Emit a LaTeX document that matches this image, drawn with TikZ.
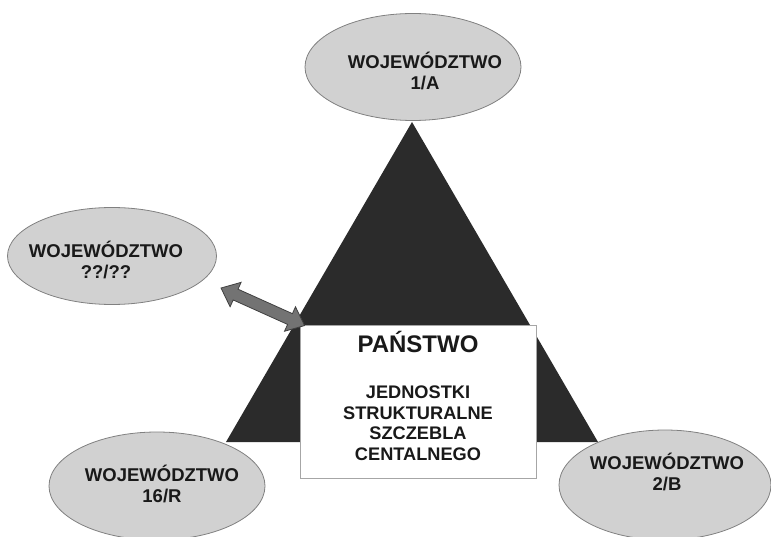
\documentclass[tikz,border=0pt]{standalone}
\usepackage{fontspec}
\setmainfont{Liberation Sans}
\usetikzlibrary{shapes.geometric,shapes.arrows,calc}

\begin{document}
\begin{tikzpicture}[
  x=1pt, y=-1pt,
  woj/.style={ellipse, draw=black!50, fill=black!18, line width=0.8pt, inner sep=0pt},
  wojtext/.style={font=\fontsize{18.5}{21.5}\selectfont\bfseries, align=center,
                  text=black!90, inner sep=0pt},
  panbox/.style={draw=black!35, fill=white, line width=0.8pt, inner sep=0pt,
                 minimum width=236pt, minimum height=153pt},
  pantext/.style={font=\fontsize{18.2}{20.7}\selectfont\bfseries, align=center,
                  text=black!90, inner sep=0pt},
  link/.style={double arrow, draw=black!75, fill=black!55, line width=0.8pt,
               inner xsep=0pt, inner ysep=5.5pt, double arrow head extend=7.5pt,
               double arrow tip angle=80}
]
\useasboundingbox (0,0) rectangle (771,537);

% Pyramid
\fill[black!83] (412,122) -- (226,442) -- (598,442) -- cycle;

% Voivodeships
\node[woj, minimum width=216pt, minimum height=107pt,
      label={[wojtext, xshift=12pt, yshift=-4pt]center:WOJEWÓDZTWO\\1/A}] (w1) at (413,67) {};
\node[woj, minimum width=209pt, minimum height=97pt,
      label={[wojtext, xshift=-6pt, yshift=-4pt]center:WOJEWÓDZTWO\\??/??}] (wx) at (112,256) {};
\node[woj, minimum width=216pt, minimum height=108pt,
      label={[wojtext, xshift=5pt, yshift=2pt]center:WOJEWÓDZTWO\\16/R}] (w16) at (157,486) {};
\node[woj, minimum width=212pt, minimum height=110pt,
      label={[wojtext, xshift=2pt, yshift=13pt]center:WOJEWÓDZTWO\\2/B}] (w2) at (665,485) {};

% State
\node[panbox, label={[pantext, yshift=5.5pt]center:{\fontsize{24}{28}\selectfont PAŃSTWO}\\[25.3pt]JEDNOSTKI\\STRUKTURALNE\\SZCZEBLA\\CENTALNEGO}] (pan) at (418,401.5) {};

% Link to the extra voivodeship
\coordinate (tail) at (221,288);
\path let \p1=($(pan.north west)+(5,1)-(tail)$), \n1={atan2(\y1,\x1)}, \n2={veclen(\x1,\y1)} in
  node[link, rotate=\n1, minimum height=\n2] (lnk) at ($(tail)!0.5!(pan.north west)+(2.5,0.5)$) {};

\end{tikzpicture}
\end{document}
